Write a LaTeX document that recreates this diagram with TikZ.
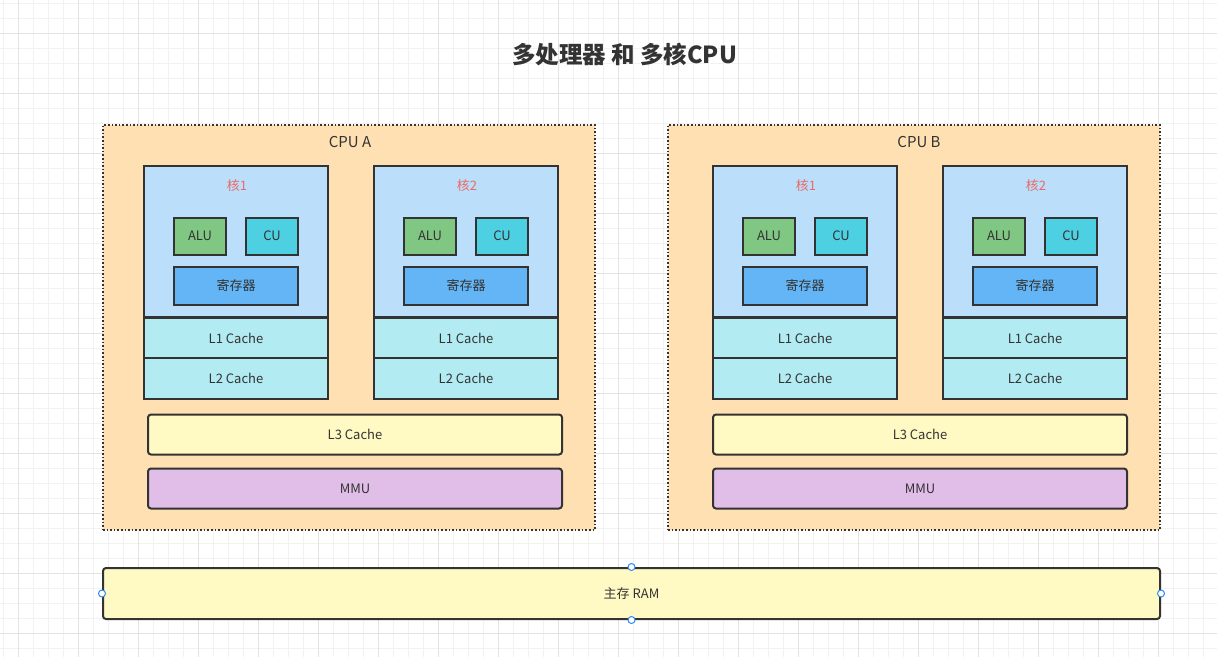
\documentclass[tikz,border=0pt]{standalone}
\usepackage{fontspec}
\setmainfont{Noto Sans CJK SC}
\begin{document}
\begin{tikzpicture}[x=1pt,y=-1pt,
  every node/.style={text=txt,font=\fontsize{13}{15}\selectfont,inner sep=0pt},
  box/.style={draw=edge,line width=2pt,minimum width=#1},
  coretop/.style={box=184,minimum height=151,fill=coreblue},
  cache/.style={box=184,minimum height=41,fill=cachecyan},
  alu/.style={box=52,minimum height=37,fill=alugreen},
  cu/.style={box=52,minimum height=37,fill=cucyan},
  reg/.style={box=124,minimum height=38,fill=regblue},
  bar/.style={box=414,minimum height=40,rounded corners=3pt},
  cpubox/.style={draw=edge,line width=1.6pt,dotted,fill=cpuorange,minimum width=492,minimum height=405},
  handle/.style={circle,draw=handleblue,line width=1pt,fill=white,minimum size=7pt},
  corelabel/.style={text=corered}]
\definecolor{txt}{HTML}{333333}
\definecolor{edge}{HTML}{333333}
\definecolor{gridminor}{HTML}{F2F2F2}
\definecolor{gridmajor}{HTML}{E3E3E3}
\definecolor{cpuorange}{HTML}{FFE0B2}
\definecolor{coreblue}{HTML}{BBDEFB}
\definecolor{cachecyan}{HTML}{B2EBF2}
\definecolor{alugreen}{HTML}{81C784}
\definecolor{cucyan}{HTML}{4DD0E1}
\definecolor{regblue}{HTML}{64B5F6}
\definecolor{yellowbar}{HTML}{FFF9C4}
\definecolor{mmupurple}{HTML}{E1BEE7}
\definecolor{corered}{HTML}{EA6B66}
\definecolor{handleblue}{HTML}{2E8AF0}
\useasboundingbox (0,0) rectangle (1217,657);
\fill[white] (0,0) rectangle (1217,657);
% grid
\foreach \i in {0,...,81} {\draw[gridminor,line width=1pt] ({3+15*\i},0) -- ({3+15*\i},657);}
\foreach \i in {0,...,43} {\draw[gridminor,line width=1pt] (0,{3+15*\i}) -- (1217,{3+15*\i});}
\foreach \i in {0,...,20} {\draw[gridmajor,line width=1pt] ({18+60*\i},0) -- ({18+60*\i},657);}
\foreach \i in {0,...,10} {\draw[gridmajor,line width=1pt] (0,{33+60*\i}) -- (1217,{33+60*\i});}
% title
\node (title) at (624.5,55) {\fontsize{23.5}{28}\selectfont\bfseries 多处理器 和 多核CPU};
% CPU boxes
\node[cpubox] (cpuA) at (349,327.5) {};
\node[cpubox] (cpuB) at (914,327.5) {};
\node (cpuAlbl) at (350,142) {\fontsize{15}{18}\selectfont CPU A};
\node (cpuBlbl) at (919,142) {\fontsize{15}{18}\selectfont CPU B};
% cores
\foreach \cx/\nm/\lbl in {236/a1/核1, 466/a2/核2, 805/b1/核1, 1035/b2/核2} {
  \node[coretop] (\nm top) at (\cx,241.5) {};
  \node[cache] (\nm l1) at (\cx,338) {L1 Cache};
  \node[cache] (\nm l2) at (\cx,378.5) {L2 Cache};
  \node[corelabel] (\nm lbl) at (\cx+1,186) {\lbl};
  \node[alu] (\nm alu) at (\cx-36,236) {ALU};
  \node[cu] (\nm cu) at (\cx+36,236) {CU};
  \node[reg] (\nm reg) at (\cx,285.5) {寄存器};
}
% L3 and MMU
\node[bar,fill=yellowbar] (aL3) at (355,434.5) {L3 Cache};
\node[bar,fill=mmupurple] (aMMU) at (355,488.5) {MMU};
\node[bar,fill=yellowbar] (bL3) at (920,434.5) {L3 Cache};
\node[bar,fill=mmupurple] (bMMU) at (920,488.5) {MMU};
% RAM
\node[box=1057,minimum height=51,rounded corners=3pt,fill=yellowbar] (ram) at (631.5,593.5) {主存 RAM};
\node[handle] (hW) at (ram.west) {};
\node[handle] (hE) at (ram.east) {};
\node[handle] (hN) at (ram.north) {};
\node[handle] (hS) at (ram.south) {};
\end{tikzpicture}
\end{document}
